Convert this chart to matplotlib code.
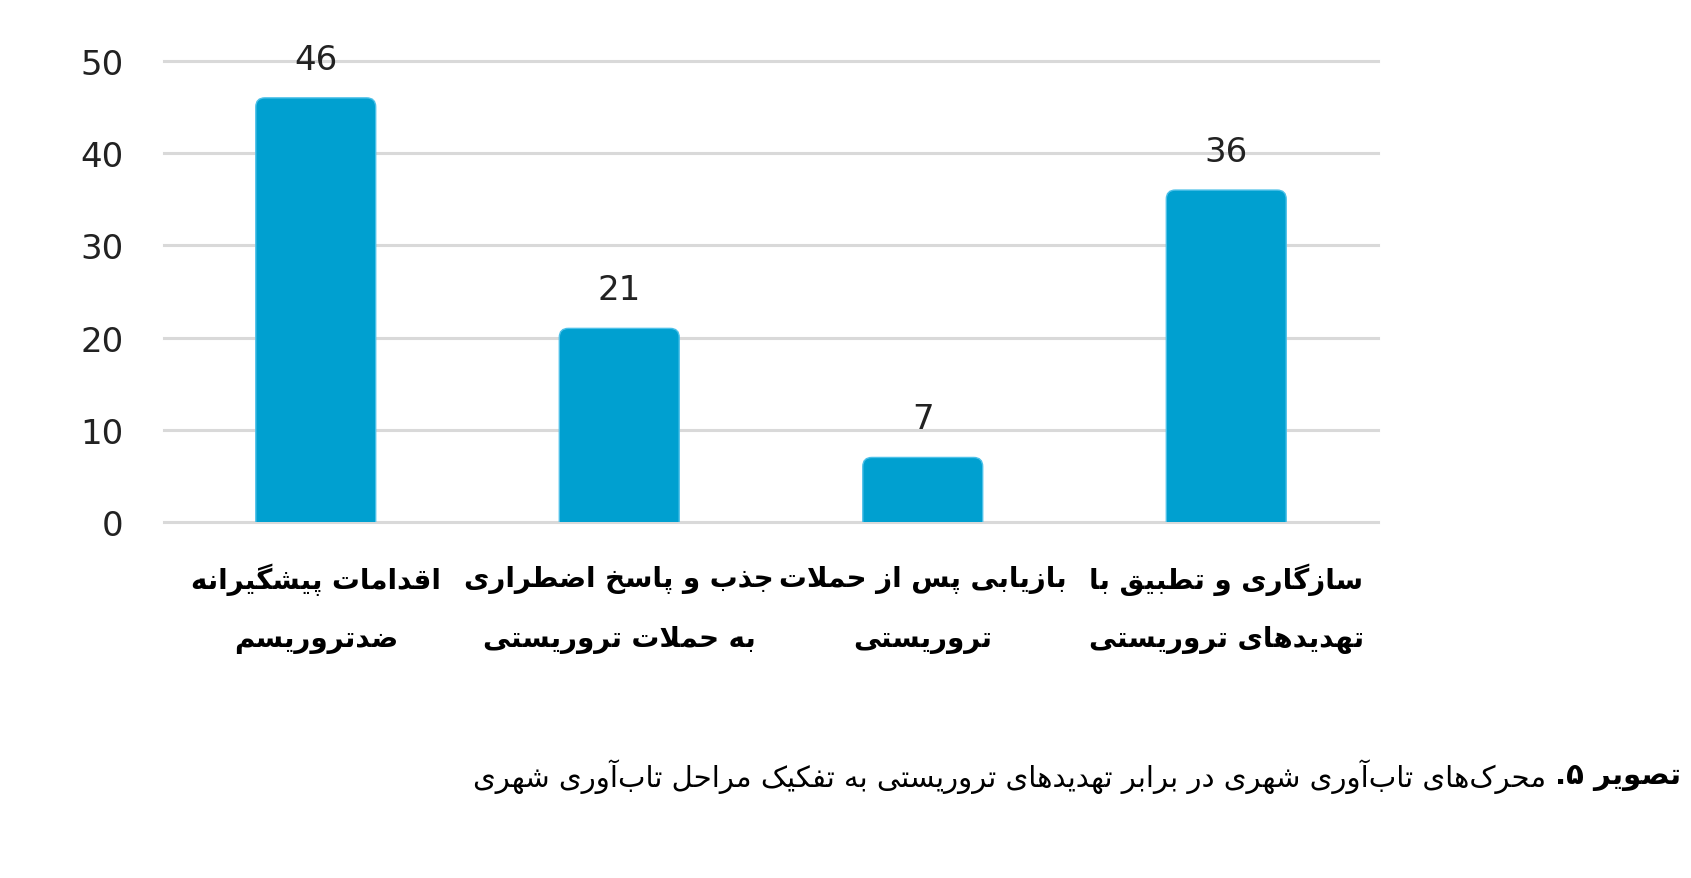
import matplotlib
matplotlib.use("Agg")
import matplotlib.pyplot as plt
import matplotlib.transforms as mtrans
from matplotlib.patches import FancyBboxPatch

# chart data
categories = [
    ["اقدامات پیشگیرانه", "ضدتروریسم"],
    ["جذب و پاسخ اضطراری", "به حملات تروریستی"],
    ["بازیابی پس از حملات", "تروریستی"],
    ["سازگاری و تطبیق با", "تهدیدهای تروریستی"],
]
values = [46, 21, 7, 36]
yticks = [0, 10, 20, 30, 40, 50]
caption_bold = "تصویر ۵."
caption_rest = "محرک‌های تاب‌آوری شهری در برابر تهدیدهای تروریستی به تفکیک مراحل تاب‌آوری شهری"

BAR_COLOR = "#00a0d0"
GRID_COLOR = "#d9d9d9"

# matplotlib has no arabic shaping: map letters to presentation forms by hand
# (isolated, final, initial, medial); None = letter does not join forward
FORMS = {
    "ا": ("\uFE8D", "\uFE8E", None, None),
    "آ": ("\uFE81", "\uFE82", None, None),
    "ب": ("\uFE8F", "\uFE90", "\uFE91", "\uFE92"),
    "پ": ("\uFB56", "\uFB57", "\uFB58", "\uFB59"),
    "ت": ("\uFE95", "\uFE96", "\uFE97", "\uFE98"),
    "ث": ("\uFE99", "\uFE9A", "\uFE9B", "\uFE9C"),
    "ج": ("\uFE9D", "\uFE9E", "\uFE9F", "\uFEA0"),
    "چ": ("\uFB7A", "\uFB7B", "\uFB7C", "\uFB7D"),
    "ح": ("\uFEA1", "\uFEA2", "\uFEA3", "\uFEA4"),
    "خ": ("\uFEA5", "\uFEA6", "\uFEA7", "\uFEA8"),
    "د": ("\uFEA9", "\uFEAA", None, None),
    "ذ": ("\uFEAB", "\uFEAC", None, None),
    "ر": ("\uFEAD", "\uFEAE", None, None),
    "ز": ("\uFEAF", "\uFEB0", None, None),
    "ژ": ("\uFB8A", "\uFB8B", None, None),
    "س": ("\uFEB1", "\uFEB2", "\uFEB3", "\uFEB4"),
    "ش": ("\uFEB5", "\uFEB6", "\uFEB7", "\uFEB8"),
    "ص": ("\uFEB9", "\uFEBA", "\uFEBB", "\uFEBC"),
    "ض": ("\uFEBD", "\uFEBE", "\uFEBF", "\uFEC0"),
    "ط": ("\uFEC1", "\uFEC2", "\uFEC3", "\uFEC4"),
    "ظ": ("\uFEC5", "\uFEC6", "\uFEC7", "\uFEC8"),
    "ع": ("\uFEC9", "\uFECA", "\uFECB", "\uFECC"),
    "غ": ("\uFECD", "\uFECE", "\uFECF", "\uFED0"),
    "ف": ("\uFED1", "\uFED2", "\uFED3", "\uFED4"),
    "ق": ("\uFED5", "\uFED6", "\uFED7", "\uFED8"),
    "ک": ("\uFB8E", "\uFB8F", "\uFB90", "\uFB91"),
    "گ": ("\uFB92", "\uFB93", "\uFB94", "\uFB95"),
    "ل": ("\uFEDD", "\uFEDE", "\uFEDF", "\uFEE0"),
    "م": ("\uFEE1", "\uFEE2", "\uFEE3", "\uFEE4"),
    "ن": ("\uFEE5", "\uFEE6", "\uFEE7", "\uFEE8"),
    "ه": ("\uFEE9", "\uFEEA", "\uFEEB", "\uFEEC"),
    "و": ("\uFEED", "\uFEEE", None, None),
    "ی": ("\uFBFC", "\uFBFD", "\uFBFE", "\uFBFF"),
}
LAM_ALEF = {"ا": ("\uFEFB", "\uFEFC"), "آ": ("\uFEF5", "\uFEF6")}


def shape(line):
    chars = list(line)
    n = len(chars)
    out = []
    i = 0
    while i < n:
        c = chars[i]
        if c not in FORMS:
            if c != "\u200c":
                out.append(c)
            i += 1
            continue
        prev = chars[i - 1] if i > 0 else None
        joins_prev = prev in FORMS and FORMS[prev][2] is not None
        if c == "ل" and i + 1 < n and chars[i + 1] in LAM_ALEF:
            lig = LAM_ALEF[chars[i + 1]]
            out.append(lig[1] if joins_prev else lig[0])
            i += 2
            continue
        nxt = chars[i + 1] if i + 1 < n else None
        joins_next = FORMS[c][2] is not None and nxt in FORMS
        iso, fin, ini, med = FORMS[c]
        if joins_prev and joins_next:
            out.append(med)
        elif joins_prev:
            out.append(fin)
        elif joins_next:
            out.append(ini)
        else:
            out.append(iso)
        i += 1
    return "".join(reversed(out))


W, H = 1691, 879
fig = plt.figure(figsize=(W / 100, H / 100), dpi=100)
ax_left, ax_w = 164, 1214
ax_top, ax_bot = 62, 523
ax = fig.add_axes([ax_left / W, 1 - ax_bot / H, ax_w / W, (ax_bot - ax_top) / H])

x = list(range(len(values)))
ax.set_xlim(-0.5, len(values) - 0.5)
ax.set_ylim(0, 50)

# bars with rounded top corners (bottom corners pushed below the axis)
bars = ax.bar(x, values, width=0.395, color=BAR_COLOR, zorder=3)
px_x = ax_w / len(values)
px_y = (ax_bot - ax_top) / 50
aspect = px_x / px_y
r = 9 / px_x
for rect in bars:
    x0, w, h = rect.get_x(), rect.get_width(), rect.get_height()
    rect.set_visible(False)
    ax.add_patch(FancyBboxPatch((x0, -r * aspect), w, h + r * aspect,
                                boxstyle=f"round,pad=0,rounding_size={r}",
                                mutation_aspect=aspect, facecolor=BAR_COLOR,
                                edgecolor="#4cc0e8", linewidth=1.0, zorder=3))

for xi, v in zip(x, values):
    ax.annotate(str(v), (xi, v), xytext=(0, 21), textcoords="offset points",
                ha="center", va="baseline", fontsize=24.5, color="#222222",
                family="DejaVu Sans", annotation_clip=False)

ax.set_yticks(yticks)
ax.set_xticks([])
ax.tick_params(axis="y", length=0, pad=29, labelsize=24.5, labelcolor="#222222")
ax.yaxis.grid(True, color=GRID_COLOR, linewidth=2.2, zorder=0)
ax.set_axisbelow(True)
for gl in ax.get_ygridlines():
    gl.set_clip_on(False)
for s in ax.spines.values():
    s.set_visible(False)

# two-line category names under the bars
trans = mtrans.blended_transform_factory(ax.transData, fig.transFigure)
for xi, lines in zip(x, categories):
    for k, line in enumerate(lines):
        yy = 1 - (580 + 60 * k) / H
        ax.text(xi, yy, shape(line), transform=trans, ha="center",
                va="center", fontsize=20, fontweight="bold",
                family="DejaVu Sans", color="black")

# caption: bold figure number on the right, plain text to its left
cap_y = 1 - 777 / H
tb = fig.text(1681 / W, cap_y, shape(caption_bold), ha="right", va="center",
              fontsize=21, fontweight="bold", family="DejaVu Sans")
fig.canvas.draw()
bb = tb.get_window_extent(fig.canvas.get_renderer())
fig.text((bb.x0 - 9) / W, cap_y, shape(caption_rest), ha="right",
         va="center", fontsize=21, family="DejaVu Sans")

fig.savefig("out.png", dpi=100)
